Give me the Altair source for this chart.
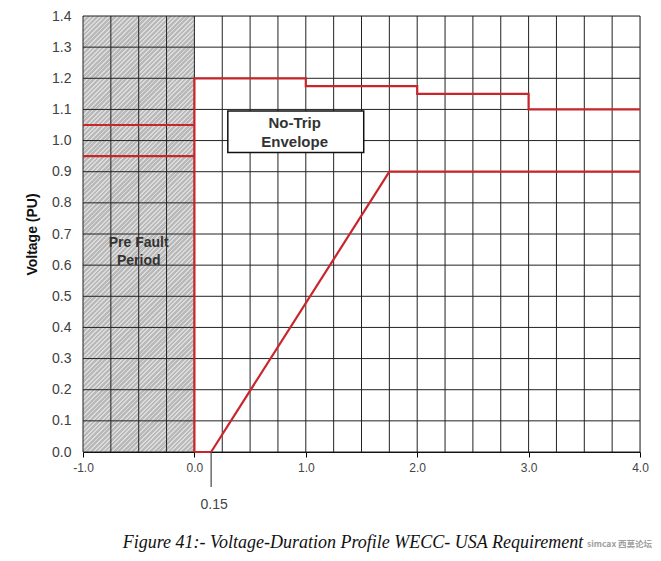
import altair as alt
import pandas as pd

# ---- data ----
upper_x = [0.0, 0.0, 1.0, 1.0, 2.0, 2.0, 3.0, 3.0, 4.0]
upper_y = [0.0, 1.2, 1.2, 1.175, 1.175, 1.15, 1.15, 1.1, 1.1]
lower_x = [0.0, 0.15, 1.75, 4.0]
lower_y = [0.0, 0.0, 0.9, 0.9]
pre_x = [-1.0, 0.0]
pre_hi = [1.05, 1.05]
pre_lo = [0.95, 0.95]

x_ticks = [-1.0, 0.0, 1.0, 2.0, 3.0, 4.0]
y_ticks = [0.0, 0.1, 0.2, 0.3, 0.4, 0.5, 0.6, 0.7, 0.8, 0.9, 1.0, 1.1, 1.2, 1.3, 1.4]
x_grid = [-1.0, -0.75, -0.5, -0.25, 0.0, 0.25, 0.5, 0.75, 1.0, 1.25, 1.5, 1.75,
          2.0, 2.25, 2.5, 2.75, 3.0, 3.25, 3.5, 3.75, 4.0]
y_grid = y_ticks

prefault_region = {"x": [-1.0], "x2": [0.0], "y": [0.0], "y2": [1.4]}
box_region = {"x": [0.3], "x2": [1.52], "y": [0.962], "y2": [1.095]}
box_text = ["No-Trip", "Envelope"]
box_text_x = [0.9, 0.9]
box_text_y = [1.055, 0.995]
pre_text = ["Pre Fault", "Period"]
pre_text_x = [-0.5, -0.5]
pre_text_y = [0.672, 0.613]
marker_x = [0.15]
marker_label = ["0.15"]
caption = "Figure 41:- Voltage-Duration Profile WECC- USA Requirement"
watermark = "simcax 西莫论坛"

# ---- tables ----
rows = []
for i, (a, b) in enumerate(zip(upper_x, upper_y)):
    rows.append({"s": "upper", "i": i, "x": a, "y": b})
for i, (a, b) in enumerate(zip(lower_x, lower_y)):
    rows.append({"s": "lower", "i": i, "x": a, "y": b})
for i, (a, b) in enumerate(zip(pre_x, pre_hi)):
    rows.append({"s": "prehi", "i": i, "x": a, "y": b})
for i, (a, b) in enumerate(zip(pre_x, pre_lo)):
    rows.append({"s": "prelo", "i": i, "x": a, "y": b})
lines_df = pd.DataFrame(rows)

# ---- layout (pixels) ----
W, H = 557, 436
PAD = {"left": 75, "top": 8, "right": 13, "bottom": 101}

FONT = "Liberation Sans"
xscale = alt.Scale(domain=[-1, 4], nice=False, zero=False)
yscale = alt.Scale(domain=[0, 1.4], nice=False, zero=False)
xaxis = alt.Axis(values=x_ticks, grid=False, tickSize=5, tickColor="#000",
                 labelExpr="(datum.value < 0 ? '-' : '') + format(abs(datum.value), '.1f')",
                 domainColor="#000", labelFont=FONT, labelFontSize=12, labelColor="#444",
                 labelPadding=5, labelFlush=False, labelOverlap=False, title=None)
yaxis = alt.Axis(values=y_ticks, format=".1f", grid=False, ticks=False, domainColor="#000",
                 labelFont=FONT, labelFontSize=14, labelColor="#404040", labelPadding=12,
                 labelFlush=False, labelOverlap=False,
                 title="Voltage (PU)", titleFont=FONT, titleFontSize=14, titleFontWeight="bold",
                 titleColor="#111", titlePadding=12)


def X(f="x"):
    return alt.X(f, type="quantitative", scale=xscale, axis=xaxis)


def Y(f="y"):
    return alt.Y(f, type="quantitative", scale=yscale, axis=yaxis)


# diagonal hatch "////" as a striped linear gradient over the pre-fault rectangle
rw = W / 5.0          # pixel width of the rectangle (1 x-unit)
rh = float(H)         # pixel height
span = rw + rh        # range of (px + py) over the box
bfac = span / (rh + rw * rw / rh)
gx2 = (rw / rh) * bfac
gy2 = bfac
period = 3.2 * (2 ** 0.5)
n = int(span / period)
base, light = "#b9b9b9", "#dcdcdc"
stops = []
for k in range(n + 1):
    o0 = min(k / n, 1.0)
    o1 = min((k + 0.6) / n, 1.0)
    o2 = min((k + 1) / n, 1.0)
    stops += [alt.GradientStop(color=base, offset=o0), alt.GradientStop(color=base, offset=o1),
              alt.GradientStop(color=light, offset=o1), alt.GradientStop(color=light, offset=o2)]
hatch = alt.LinearGradient(gradient="linear", stops=stops, x1=0, y1=0, x2=gx2, y2=gy2)

gray = alt.Chart(pd.DataFrame(prefault_region)).mark_rect(fill=hatch).encode(
    x=X("x"), x2="x2", y=Y("y"), y2="y2")

vgrid = alt.Chart(pd.DataFrame({"x": x_grid})).mark_rule(color="#222", strokeWidth=1).encode(x=X("x"))
hgrid = alt.Chart(pd.DataFrame({"y": y_grid})).mark_rule(color="#222", strokeWidth=1).encode(y=Y("y"))

lines = alt.Chart(lines_df).mark_line(color="#c8262c", strokeWidth=2.2).encode(
    x=X("x"), y=Y("y"), detail="s:N", order="i:Q")

box = alt.Chart(pd.DataFrame(box_region)).mark_rect(fill="white", stroke="#111", strokeWidth=1.5).encode(
    x=X("x"), x2="x2", y=Y("y"), y2="y2")

box_lbl = alt.Chart(pd.DataFrame({"t": box_text, "x": box_text_x, "y": box_text_y})).mark_text(
    font=FONT, fontSize=15, fontWeight="bold", color="#333").encode(x=X("x"), y=Y("y"), text="t:N")

pre_lbl = alt.Chart(pd.DataFrame({"t": pre_text, "x": pre_text_x, "y": pre_text_y})).mark_text(
    font=FONT, fontSize=14, fontWeight="bold", color="#333").encode(x=X("x"), y=Y("y"), text="t:N")

marker = alt.Chart(pd.DataFrame({"x": marker_x})).mark_rule(color="#222", strokeWidth=1).encode(
    x=X("x"), y=alt.value(H), y2=alt.value(H + 35))
marker_lbl = alt.Chart(pd.DataFrame({"x": marker_x, "t": marker_label})).mark_text(
    font=FONT, fontSize=14, color="#444", dx=3).encode(x=X("x"), y=alt.value(H + 53), text="t:N")

cap = alt.Chart(pd.DataFrame({"t": [caption]})).mark_text(
    font="Liberation Serif", fontSize=18, fontStyle="italic", color="#111").encode(
    x=alt.value(270), y=alt.value(527), text="t:N")

wm = alt.Chart(pd.DataFrame({"t": [watermark]})).mark_text(
    font="Noto Sans CJK SC", fontSize=8.5, fontWeight="bold", color="#a0a0a0",
    align="left").encode(x=alt.value(504), y=alt.value(528), text="t:N")

chart = alt.layer(gray, vgrid, hgrid, lines, box, box_lbl, pre_lbl, marker, marker_lbl, cap, wm).properties(
    width=W, height=H, autosize="none", padding=PAD,
).configure_view(stroke=None).configure(background="white")

chart.save("out.html", embed_options={"renderer": "svg", "actions": False})
